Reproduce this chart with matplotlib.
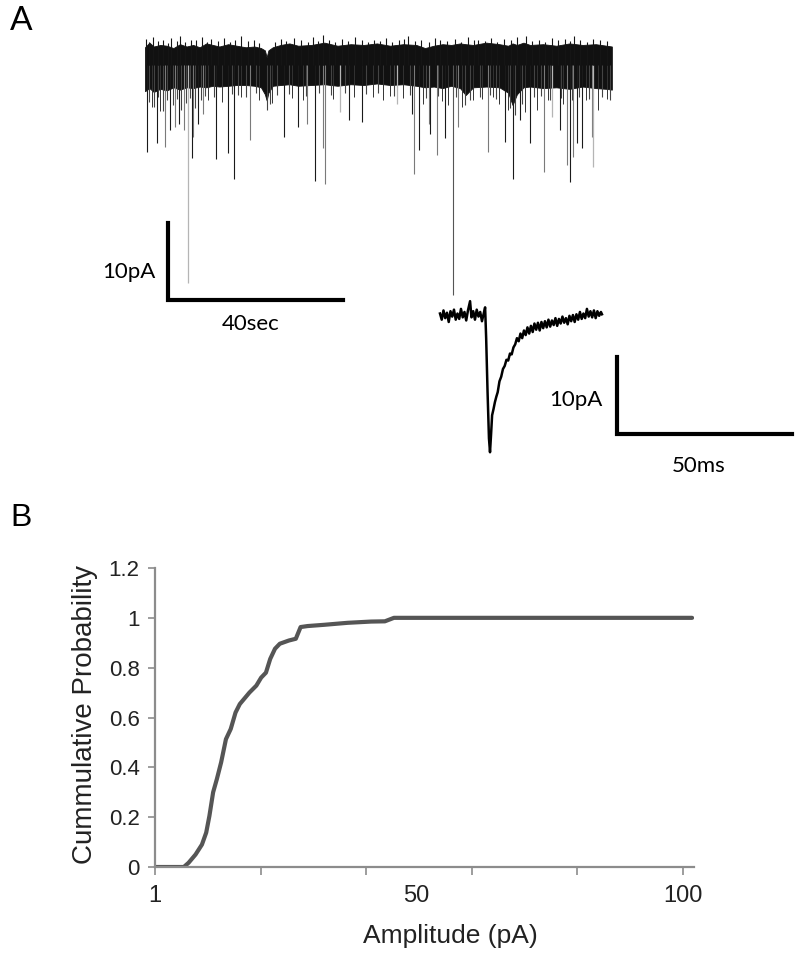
import numpy as np
import matplotlib
matplotlib.use("Agg")
import matplotlib.pyplot as plt

W, H = 800, 957

# --- panel A: long recording (seconds, pA) ---
band_t = [0, 1, 2, 3.5, 5, 6.5, 8, 9.5, 11, 12.5, 14, 15.5, 17, 19, 21, 23, 25, 26.5, 27.4, 27.8,
          28.2, 29.2, 31, 33, 35, 38, 41, 44, 47, 50, 53, 56, 59, 62, 64, 66, 68, 70, 72, 73.3,
          75, 78, 81, 83, 84, 85, 86.5, 88, 91, 94, 97, 100, 103, 105.5, 106.7]
band_top = [2.3, 2.9, 2.4, 2.6, 2.5, 2.2, 2.7, 2.4, 2.6, 2.3, 2.8, 2.6, 2.4, 2.7, 2.5, 2.3, 2.4, 2.2, 1.9, 1.0,
            1.9, 2.3, 2.6, 2.8, 2.5, 2.6, 2.9, 2.5, 2.7, 2.6, 2.8, 2.5, 2.7, 2.6, 2.2, 2.5, 2.7, 2.6, 2.8, 2.7,
            2.6, 2.9, 2.7, 2.5, 2.8, 2.6, 2.9, 2.6, 2.7, 2.5, 2.8, 2.6, 2.7, 2.5, 2.4]
band_bottom = [-3.4, -3.0, -3.5, -3.1, -3.3, -2.9, -3.2, -2.9, -3.0, -2.8, -2.9, -2.7, -2.8, -2.7, -2.6, -2.6, -2.7, -2.9, -3.8, -4.6,
               -3.6, -2.7, -2.6, -2.5, -2.7, -2.6, -2.5, -2.7, -2.5, -2.6, -2.4, -2.6, -2.5, -2.7, -2.9, -2.8, -3.0, -2.7, -3.0, -3.9,
               -2.9, -2.8, -2.9, -3.6, -5.2, -3.8, -2.9, -2.8, -3.0, -2.9, -3.1, -2.8, -3.0, -3.1, -3.2]

# upward noise peaks on top of the band
up_t = [0.3, 1.0, 1.8, 2.9, 4.1, 5.2, 6.0, 7.3, 8.0, 9.1, 10.4, 11.6, 13.0, 14.2, 15.1, 16.7, 18.0, 19.4, 20.6, 22.0,
        23.5, 24.8, 26.0, 29.8, 31.0, 32.3, 34.0, 35.6, 37.2, 38.4, 39.5, 40.6, 42.0, 43.4, 45.0, 46.3, 48.0, 49.5, 51.0, 52.4,
        53.8, 55.0, 56.5, 58.0, 59.2, 60.0, 61.8, 63.0, 65.0, 66.3, 67.5, 69.0, 70.8, 72.2, 73.9, 75.2, 76.0, 77.6, 79.0, 80.5,
        82.0, 83.6, 85.0, 87.0, 88.5, 90.0, 91.4, 93.0, 94.5, 96.0, 97.2, 98.0, 99.5, 101.0, 102.5, 104.0, 105.6]
up_amp = [3.4, 3.0, 3.6, 3.1, 3.3, 2.9, 3.5, 3.1, 3.8, 3.0, 3.3, 3.2, 3.6, 3.0, 3.4, 3.1, 3.5, 3.0, 3.3, 3.7,
          3.1, 3.2, 2.9, 3.0, 3.4, 3.1, 3.5, 3.2, 3.0, 3.6, 3.1, 3.9, 3.2, 3.0, 3.4, 3.1, 3.6, 3.2, 3.0, 3.3,
          3.1, 3.5, 3.0, 3.2, 3.4, 3.7, 3.1, 3.3, 3.0, 3.5, 3.2, 3.1, 3.4, 3.0, 3.6, 3.2, 3.3, 3.1, 3.5, 3.0,
          3.4, 3.2, 3.6, 3.8, 3.1, 3.3, 3.0, 3.5, 3.2, 3.4, 3.1, 3.7, 3.3, 3.0, 3.4, 3.2, 3.1]

# downward events (minis)
dark_t = [0.4, 2.7, 5.7, 7.8, 10.7, 12.2, 16.2, 18.9, 20.3, 31.8, 35.0, 38.9, 46.6, 49.6, 61.0, 62.6,
          65.1, 68.6, 82.3, 84.1, 85.6, 88.0, 94.9, 97.1, 98.8, 99.8]
dark_amp = [-11.3, -10.1, -8.4, -7.6, -12.1, -7.6, -12.2, -11.4, -14.8, -9.4, -8.0, -15.0, -7.2, -7.4, -6.3, -11.0,
            -8.9, -9.5, -10.0, -14.8, -7.1, -10.1, -8.4, -15.2, -10.1, -10.8]
gray_t = [4.6, 6.9, 8.8, 11.0, 13.3, 24.0, 37.0, 40.6, 41.1, 61.5, 64.8, 66.7, 71.6, 78.3, 91.2, 96.4, 97.8, 102.1]
gray_amp = [-10.6, -8.0, -8.4, -9.3, -6.3, -9.7, -7.6, -10.8, -15.5, -14.2, -7.6, -11.7, -8.0, -11.3, -13.9, -13.0, -11.9, -9.3]
light_t = [9.8, 44.6, 57.5, 93.0, 102.4]
light_amp = [-28.3, -6.1, -5.1, -6.7, -13.2]
big_t = [70.4]
big_amp = [-29.9]
small_t = [1.5, 3.5, 9.0, 14.5, 17.5, 22.0, 26.0, 29.0, 33.5, 36.0, 43.0, 47.8, 52.0, 54.5, 56.0, 59.0,
           63.5, 67.8, 69.3, 72.5, 75.0, 77.0, 79.5, 81.0, 83.0, 86.9, 89.5, 92.0, 95.5, 100.8, 103.6, 105.5]
small_amp = [-5.5, -6.0, -5.2, -4.6, -4.8, -4.2, -4.5, -4.9, -4.3, -4.6, -4.4, -4.2, -4.1, -4.5, -4.0, -4.3,
             -5.0, -4.7, -5.2, -5.5, -4.6, -4.4, -4.1, -5.0, -5.8, -6.1, -5.8, -4.6, -5.0, -4.5, -5.8, -4.4]
fringe_t = [0.9, 2.1, 3.0, 4.0, 5.0, 6.3, 7.2, 8.3, 9.4, 10.2, 11.5, 12.8, 13.8, 15.8, 19.8, 21.3, 23.0, 25.3, 27.8, 28.6,
            30.2, 32.8, 36.7, 39.8, 42.5, 45.7, 50.5, 53.2, 57.0, 60.5, 64.2, 67.0, 71.0, 73.1, 74.2, 76.5, 78.8, 80.2, 83.4, 84.6,
            86.2, 89.0, 90.6, 92.6, 95.0, 97.5, 99.2, 101.5, 104.5, 106.2]
fringe_amp = [-4.8, -5.5, -4.2, -6.0, -4.6, -5.2, -4.4, -5.8, -4.9, -4.3, -5.6, -4.5, -4.0, -4.2, -3.8, -3.9, -4.1, -3.7, -5.8, -5.0,
              -3.9, -3.8, -4.0, -3.7, -3.9, -3.6, -3.8, -3.7, -4.0, -3.9, -4.3, -4.0, -4.2, -5.2, -4.6, -4.1, -3.9, -4.4, -5.6, -6.5,
              -5.0, -4.2, -4.0, -4.5, -4.3, -4.6, -4.2, -4.4, -4.1, -4.5]

# --- panel A inset: single event (ms, pA) ---
event_t = [0, 0.5, 1.0, 1.5, 2.0, 2.5, 3.0, 3.5, 4.0, 4.5, 5.0, 5.5, 6.0, 6.5, 7.0, 7.5, 8.0, 8.6, 9.0, 9.5,
           10.0, 10.5, 11.0, 11.5, 12.0, 12.5, 12.9,
           13.2, 13.6, 14.0, 14.3, 14.6, 14.9, 15.3, 15.7, 16.1, 16.5, 17.0, 17.5, 18.0, 18.5, 19.0, 19.5, 20.0, 20.5, 21.0, 21.5,
           22.0, 22.5, 23.0, 23.5, 24.0, 24.5, 25.0, 25.5, 26.0, 26.5, 27.0, 27.5, 28.0, 28.5, 29.0, 29.5, 30.0, 30.5, 31.0, 31.5,
           32.0, 32.5, 33.0, 33.5, 34.0, 34.5, 35.0, 35.5, 36.0, 36.5, 37.0, 37.5, 38.0, 38.5, 39.0, 39.5, 40.0, 40.5, 41.0, 41.5,
           42.0, 42.5, 43.0, 43.5, 44.0, 44.5, 45.0, 45.5, 46.0, 46.3]
event_amp = [0.2, -0.6, 0.6, -0.4, 0.3, -0.9, 0.5, -0.2, 0.7, -0.6, 0.2, -0.5, 0.8, -0.3, 0.4, -0.7, 0.6, 1.8, -0.3, 0.5,
             -0.6, 0.7, -0.2, 0.4, -0.8, 0.2, 1.0,
             -3.0, -10.0, -16.0, -17.8, -15.5, -13.0, -12.2, -11.3, -10.6, -10.0, -8.6, -8.0, -7.0, -6.6, -5.8, -5.9, -5.0, -5.1, -4.2, -3.8,
             -3.0, -3.4, -2.4, -3.0, -2.0, -2.6, -1.6, -2.4, -1.4, -2.2, -1.1, -1.9, -1.0, -2.0, -0.9, -1.7, -0.8, -1.6, -0.6, -1.5,
             -0.7, -1.3, -0.4, -1.4, -0.5, -1.1, -0.2, -1.0, -0.4, -1.2, -0.1, -0.8, 0.0, -0.9, 0.1, -0.6, 0.4, -0.5, 0.2, -0.4,
             0.8, -0.2, 0.5, -0.3, 0.6, -0.4, 0.5, -0.1, 0.4, 0.1]

# --- panel B: cumulative amplitude distribution ---
amp_x = [1, 6.4, 7.3, 8.6, 9.8, 10.6, 11.2, 11.9, 12.6, 13.4, 14.3, 15.2, 16.1, 16.9, 18.7, 20.0, 20.9, 21.8,
         22.6, 23.5, 24.4, 26.1, 27.4, 28.3, 29.6, 32.7, 37.1, 41.5, 44.1, 45.8, 101.7]
cum_p = [0, 0, 0.017, 0.05, 0.09, 0.138, 0.205, 0.30, 0.353, 0.42, 0.513, 0.554, 0.62, 0.654, 0.70, 0.728, 0.76, 0.78,
         0.835, 0.876, 0.896, 0.909, 0.916, 0.963, 0.967, 0.972, 0.98, 0.985, 0.986, 1.0, 1.0]
y_ticks = [0, 0.2, 0.4, 0.6, 0.8, 1.0, 1.2]
y_tick_labels = ["0", "0.2", "0.4", "0.6", "0.8", "1", "1.2"]
x_ticks = [1, 20.8, 40.6, 60.4, 80.2, 100]
x_label_pos = [1, 50, 100]
x_label_txt = ["1", "50", "100"]


def box(x0, y0, x1, y1):
    # pixel box (top-left origin) -> figure fraction rect
    return [x0 / W, 1 - y1 / H, (x1 - x0) / W, (y1 - y0) / H]


fig = plt.figure(figsize=(W / 100, H / 100), dpi=100)
fig.patch.set_facecolor("white")
fontA = ["Lato", "DejaVu Sans"]
fontB = ["Liberation Sans", "DejaVu Sans"]

# long trace
ax1 = fig.add_axes(box(130, 25, 800, 330))
ax1.set_xlim(-3.43, 149.7)
ax1.set_ylim(-34.4, 5.19)
ax1.axis("off")
ax1.vlines(fringe_t, 0, fringe_amp, color="#444444", lw=0.8)
ax1.vlines(small_t, 0, small_amp, color="#333333", lw=0.7)
ax1.vlines(gray_t, 0, gray_amp, color="#7a7a7a", lw=0.8)
ax1.vlines(light_t, 0, light_amp, color="#b5b5b5", lw=0.9)
ax1.vlines(dark_t, 0, dark_amp, color="#1a1a1a", lw=0.8)
ax1.vlines(big_t, 0, big_amp, color="#555555", lw=0.8)
ax1.fill_between(band_t, band_bottom, band_top, color="#111111", lw=0.6, edgecolor="#111111")
ax1.vlines(up_t, 0, up_amp, color="#151515", lw=0.8)
# scale bar 10 pA / 40 s
ax1.plot([5.3, 5.3, 45.3], [-20.5, -30.5, -30.5], color="black", lw=3, solid_joinstyle="miter")
ax1.text(2.4, -26.9, "10pA", ha="right", va="center", fontsize=16, family=fontA)
ax1.text(24.2, -33.6, "40sec", ha="center", va="center", fontsize=16, family=fontA)

# single event
ax2 = fig.add_axes(box(420, 290, 800, 480))
ax2.set_xlim(-5.71, 102.9)
ax2.set_ylim(-21.4, 3.25)
ax2.axis("off")
ax2.plot(event_t, event_amp, color="black", lw=1.8)
ax2.plot([50.5, 50.5, 100.5], [-5.45, -15.45, -15.45], color="black", lw=3, solid_joinstyle="miter")
ax2.text(46.6, -11.0, "10pA", ha="right", va="center", fontsize=16, family=fontA)
ax2.text(74, -19.6, "50ms", ha="center", va="center", fontsize=16, family=fontA)

fig.text(10 / W, 1 - 6 / H, "A", ha="left", va="top", fontsize=24, family=fontA)
fig.text(10 / W, 1 - 503 / H, "B", ha="left", va="top", fontsize=23, family=fontB)

# cumulative probability
ax3 = fig.add_axes(box(155, 568, 693.7, 867))
ax3.plot(amp_x, cum_p, color="#555555", lw=3, solid_capstyle="round")
ax3.set_xlim(1, 102)
ax3.set_ylim(0, 1.2)
for s in ["top", "right"]:
    ax3.spines[s].set_visible(False)
for s in ["left", "bottom"]:
    ax3.spines[s].set_color("#8c8c8c")
    ax3.spines[s].set_linewidth(1.6)
ax3.set_yticks(y_ticks)
ax3.set_yticklabels(y_tick_labels, fontsize=16, family=fontB, color="#222222")
ax3.tick_params(axis="y", direction="out", length=5, width=1.2, color="#8c8c8c", pad=6)
ax3.xaxis.remove_overlapping_locs = False
ax3.set_xticks(x_ticks)
ax3.set_xticklabels([])
ax3.tick_params(axis="x", which="major", direction="out", length=6, width=1.2, color="#8c8c8c")
ax3.set_xticks(x_label_pos, minor=True)
ax3.set_xticklabels(x_label_txt, minor=True, fontsize=17, family=fontB, color="#222222")
ax3.tick_params(axis="x", which="minor", length=0, pad=13)
ax3.set_ylabel("Cummulative Probability", fontsize=20, family=fontB, color="#222222")
ax3.yaxis.set_label_coords(-0.105, 0.51)
ax3.set_xlabel("Amplitude (pA)", fontsize=19, family=fontB, color="#222222")
ax3.xaxis.set_label_coords(0.548, -0.19)

fig.savefig("out.png", dpi=100, facecolor="white")
